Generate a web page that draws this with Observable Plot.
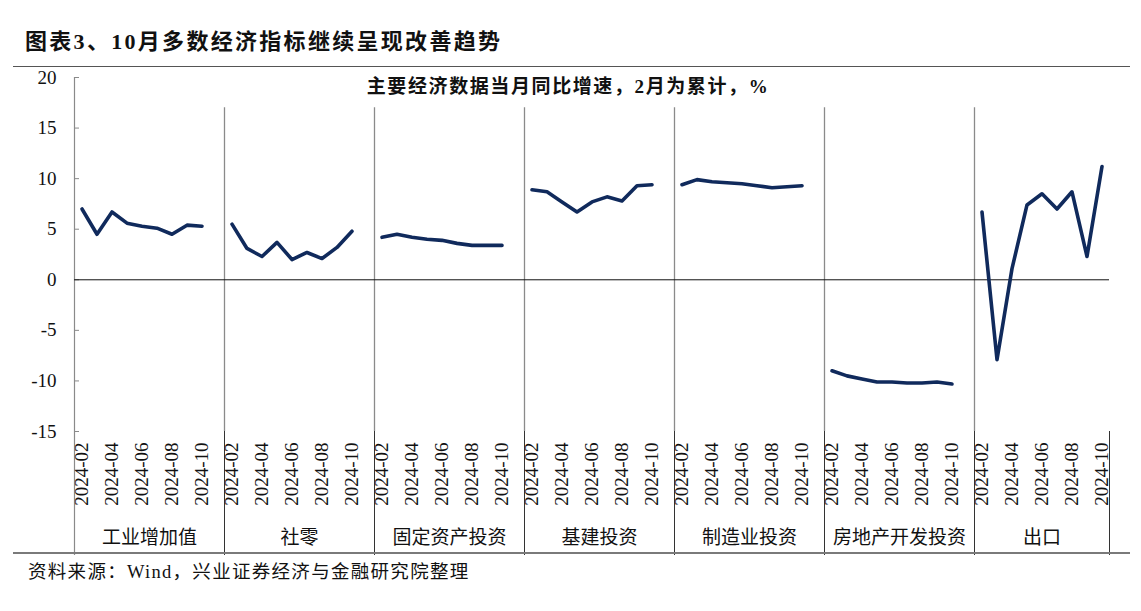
<!DOCTYPE html>
<html>
<head>
<meta charset="utf-8">
<script src="https://cdn.jsdelivr.net/npm/d3@7"></script>
<script src="https://cdn.jsdelivr.net/npm/@observablehq/plot@0.6"></script>
<style>
  html, body { margin: 0; padding: 0; background: #fff; }
  #wrap { position: relative; width: 1141px; height: 611px; overflow: hidden; background: #fff;
          font-family: "Liberation Serif", "Noto Sans CJK SC", serif; color: #111; }
  #title { position: absolute; left: 25px; top: 29px; font-size: 22px; line-height: 26px; font-weight: bold; letter-spacing: 2.3px; white-space: nowrap; }
  #topRule { position: absolute; left: 13px; top: 66px; width: 1117px; border-top: 1.5px solid #555; }
  #chart { position: absolute; left: 0; top: 66px; }
  #subtitle { position: absolute; left: 0; width: 1136px; top: 76px; text-align: center; font-size: 19px; line-height: 22px; font-weight: bold; letter-spacing: 1.6px; white-space: nowrap; }
  #bottomRule { position: absolute; left: 13px; top: 552px; width: 1117px; border-top: 2.5px solid #7a7a7a; }
  #footer { position: absolute; left: 28px; top: 561px; font-size: 18.5px; line-height: 22px; letter-spacing: 1.3px; white-space: nowrap; }
</style>
</head>
<body>
<div id="wrap">
  <div id="title">图表3、10月多数经济指标继续呈现改善趋势</div>
  <div id="topRule"></div>
  <div id="chart"></div>
  <div id="subtitle">主要经济数据当月同比增速，2月为累计，%</div>
  <div id="bottomRule"></div>
  <div id="footer">资料来源：Wind，兴业证券经济与金融研究院整理</div>
</div>
<script>
// ---- data ----
const months = ["2024-02","2024-03","2024-04","2024-05","2024-06","2024-07","2024-08","2024-09","2024-10"];
const panels = ["工业增加值","社零","固定资产投资","基建投资","制造业投资","房地产开发投资","出口"];
const industrial    = [7.0, 4.5, 6.7, 5.6, 5.3, 5.1, 4.5, 5.4, 5.3];
const retail        = [5.5, 3.1, 2.3, 3.7, 2.0, 2.7, 2.1, 3.2, 4.8];
const fai           = [4.2, 4.5, 4.2, 4.0, 3.9, 3.6, 3.4, 3.4, 3.4];
const infra         = [8.9, 8.7, 7.7, 6.7, 7.7, 8.2, 7.8, 9.3, 9.4];
const manufacturing = [9.4, 9.9, 9.7, 9.6, 9.5, 9.3, 9.1, 9.2, 9.3];
const realEstate    = [-9.0, -9.5, -9.8, -10.1, -10.1, -10.2, -10.2, -10.1, -10.3];
const exportsYoY    = [6.7, -7.9, 1.1, 7.4, 8.5, 7.0, 8.7, 2.3, 11.2];
const yTicks = [-15, -10, -5, 0, 5, 10, 15, 20];
const tickMonths = ["2024-02","2024-04","2024-06","2024-08","2024-10"];

// ---- build table: each panel occupies 9 month slots + 1 blank separator slot ----
const seriesList = [industrial, retail, fai, infra, manufacturing, realEstate, exportsYoY];
const slotsPerPanel = months.length + 1;
const rows = [];
seriesList.forEach((vals, p) => vals.forEach((v, m) => rows.push({panel: panels[p], slot: p * slotsPerPanel + m, month: months[m], value: v})));
const lastSlot = (panels.length - 1) * slotsPerPanel + months.length - 1;
const xMin = -0.5, xMax = lastSlot + 0.5;
const boundaries = panels.slice(1).map((_, i) => (i + 1) * slotsPerPanel - 0.5);
const panelInfo = panels.map((name, p) => {
  const lo = p === 0 ? xMin : p * slotsPerPanel - 0.5;
  const hi = p === panels.length - 1 ? xMax : (p + 1) * slotsPerPanel - 0.5;
  return {name, center: (lo + hi) / 2};
});
const tickSlots = rows.filter(r => tickMonths.includes(r.month)).map(r => r.slot);
const slotMonth = new Map(rows.map(r => [r.slot, r.month]));

const H = 489, MB = 124;
const below = -(MB); // extend rules into the category-label area
const serif = "'Liberation Serif', 'Noto Sans CJK SC', serif";

const chart = Plot.plot({
  width: 1141,
  height: H,
  marginTop: 11,
  marginBottom: MB,
  marginLeft: 74,
  marginRight: 32,
  style: {fontFamily: serif, background: "transparent", color: "#111", overflow: "visible"},
  x: {domain: [xMin, xMax]},
  y: {domain: [-15, 20]},
  marks: [
    // y axis line (extends through label area)
    Plot.ruleX([xMin], {y1: 20, y2: -15, insetBottom: below, stroke: "#8a8a8a", strokeWidth: 1.2}),
    // y tick marks pointing inward
    Plot.ruleY(yTicks, {x1: xMin, x2: xMin, insetRight: -5, stroke: "#8a8a8a", strokeWidth: 1}),
    Plot.axisY({ticks: yTicks, tickSize: 0, tickPadding: 18, fontSize: 19, fontFamily: serif, label: null, tickFormat: d => String(d)}),
    // panel dividers: grey in plot area, dark in label area
    Plot.ruleX(boundaries, {y1: 17, y2: -15, stroke: "#8a8a8a", strokeWidth: 1.3}),
    Plot.ruleX(boundaries, {y1: -15, y2: -15, insetBottom: below, stroke: "#333", strokeWidth: 1}),
    Plot.ruleX([xMax], {y1: -15, y2: -15, insetBottom: below, stroke: "#333", strokeWidth: 1}),
    // zero line
    Plot.ruleY([0], {x1: xMin, x2: xMax, stroke: "#111", strokeWidth: 1}),
    // series lines
    Plot.line(rows, {x: "slot", y: "value", z: "panel", stroke: "#102a5c", strokeWidth: 3.6, strokeLinejoin: "round", strokeLinecap: "round"}),
    // category tick labels
    Plot.axisX({ticks: tickSlots, tickFormat: d => slotMonth.get(d), tickRotate: -90, tickSize: 0, tickPadding: 11, fontSize: 19, fontFamily: serif, label: null}),
    // panel names
    Plot.text(panelInfo, {x: "center", text: "name", frameAnchor: "bottom", dy: 112, fontSize: 19, fontFamily: "'Noto Sans CJK SC', sans-serif", fill: "#111"})
  ]
});
document.getElementById("chart").appendChild(chart);
</script>
</body>
</html>
